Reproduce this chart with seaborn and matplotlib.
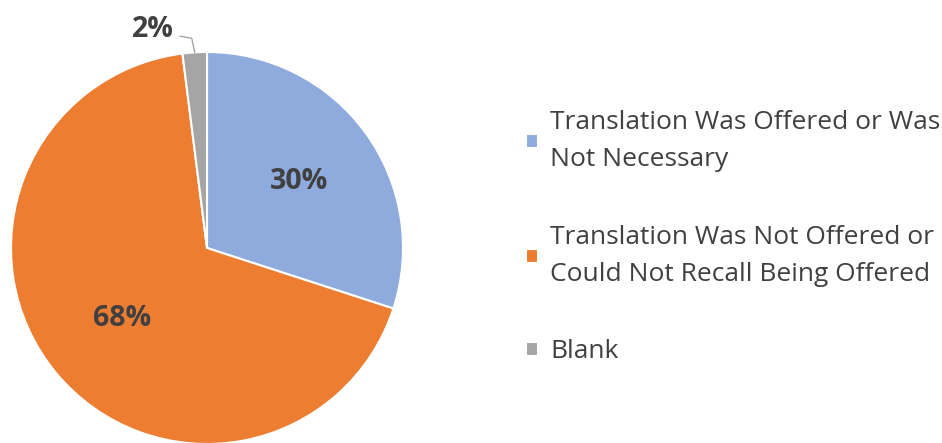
import numpy as np
import matplotlib
matplotlib.use("Agg")
import matplotlib.pyplot as plt
import seaborn as sns

categories = [
    "Translation Was Offered or Was\nNot Necessary",
    "Translation Was Not Offered or\nCould Not Recall Being Offered",
    "Blank",
]
shares = [30, 68, 2]
pct_labels = ["30%", "68%", "2%"]
colors = ["#8FAADC", "#ED7D31", "#A5A5A5"]

sns.set_theme(style="white")
plt.rcParams["font.family"] = ["Open Sans", "DejaVu Sans"]

W, H = 942, 443
fig = plt.figure(figsize=(W / 100, H / 100), dpi=100)
fig.patch.set_facecolor("white")

# pie centred at (207, 248) px with a radius of about 196 px
cx, cy, r = 207, 248, 196
ax = fig.add_axes([(cx - r) / W, (H - cy - r) / H, 2 * r / W, 2 * r / H])

wedges, _ = ax.pie(
    shares,
    colors=colors,
    startangle=90,
    counterclock=False,
    radius=1,
    wedgeprops=dict(edgecolor="white", linewidth=1.5),
)
ax.set_xlim(-1, 1)
ax.set_ylim(-1, 1)
ax.set_aspect("equal")
ax.axis("off")

text_color = "#404040"
dists = [0.58, 0.565, None]
for w, lab, d in zip(wedges, pct_labels, dists):
    mid = np.deg2rad((w.theta1 + w.theta2) / 2)
    if d is not None:
        ax.text(d * np.cos(mid), d * np.sin(mid), lab, ha="center", va="center",
                fontsize=20.5, fontweight="bold", color=text_color)
    else:
        ex, ey = np.cos(mid), np.sin(mid)
        ax.plot([ex, ex - 0.015, ex - 0.075], [ey, ey + 0.072, ey + 0.083],
                color="#A5A5A5", lw=1.0, clip_on=False)
        ax.text(ex - 0.105, ey + 0.115, lab, ha="right", va="center",
                fontsize=20.5, fontweight="bold", color=text_color)

leg = fig.legend(
    wedges, categories,
    loc="upper left",
    bbox_to_anchor=(513 / W, 1 - 97 / H),
    frameon=False,
    fontsize=19,
    handlelength=0.45,
    handleheight=0.45,
    handletextpad=0.45,
    labelspacing=1.98,
    borderpad=0,
)
for t in leg.get_texts():
    t.set_color(text_color)
    t.set_linespacing(1.64)

fig.savefig("out.png", dpi=100, facecolor="white")
